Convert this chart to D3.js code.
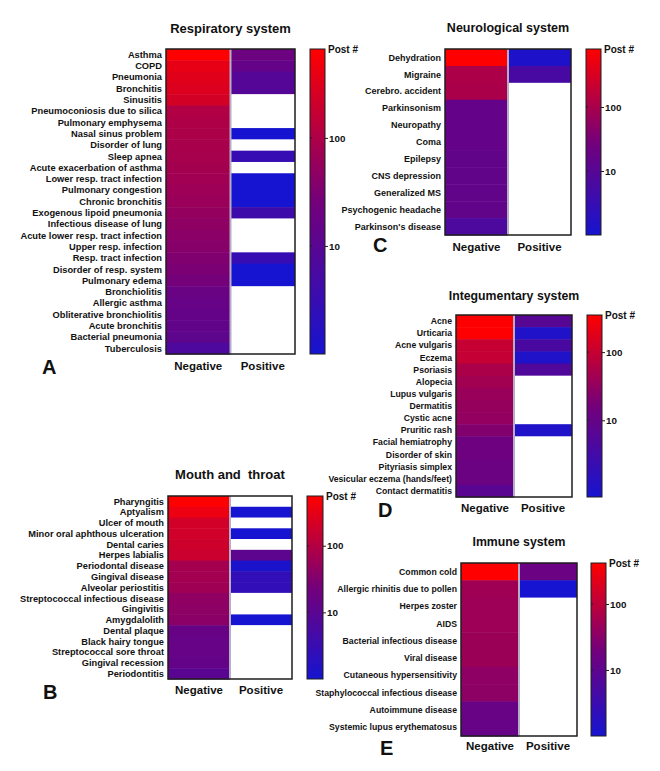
<!DOCTYPE html>
<html><head><meta charset="utf-8">
<script src="https://cdn.jsdelivr.net/npm/d3@7"></script>
<style>
body{margin:0;background:#fff}
text{font-family:"Liberation Sans",Arial,sans-serif;font-weight:bold;fill:#111}
</style>
</head><body>
<svg id="chart" width="660" height="771"></svg>
<script>
// ---------- DATA ----------
const columns = ["Negative", "Positive"];
const colorTicks = [10, 100];
const colorStops = ["#1614d0", "#74007a", "#ff0000"];

const respRows = ["Asthma","COPD","Pneumonia","Bronchitis","Sinusitis","Pneumoconiosis due to silica","Pulmonary emphysema","Nasal sinus problem","Disorder of lung","Sleep apnea","Acute exacerbation of asthma","Lower resp. tract infection","Pulmonary congestion","Chronic bronchitis","Exogenous lipoid pneumonia","Infectious disease of lung","Acute lower resp. tract infection","Upper resp. infection","Resp. tract infection","Disorder of resp. system","Pulmonary edema","Bronchiolitis","Allergic asthma","Obliterative bronchiolitis","Acute bronchitis","Bacterial pneumonia","Tuberculosis"];
const respNeg = [665,380,330,300,240,110,100,95,90,85,80,75,68,62,55,48,44,40,35,30,26,18,16,15,14,12,7];
const respPos = [20,15,9,9,null,null,null,1,null,3,null,1,1,1,4,null,null,null,3,1,1,null,null,null,null,null,null];
const respRange = [1, 665];

const mouthRows = ["Pharyngitis","Aptyalism","Ulcer of mouth","Minor oral aphthous ulceration","Dental caries","Herpes labialis","Periodontal disease","Gingival disease","Alveolar periostitis","Streptococcal infectious disease","Gingivitis","Amygdalolith","Dental plaque","Black hairy tongue","Streptococcal sore throat","Gingival recession","Periodontitis"];
const mouthNeg = [557,360,200,190,180,170,72,68,64,44,42,40,16,15,15,14,10];
const mouthPos = [null,1,null,1,null,11,1.2,2.5,2.5,null,null,1,null,null,null,null,null];
const mouthRange = [1, 557];

const neuroRows = ["Dehydration","Migraine","Cerebro. accident","Parkinsonism","Neuropathy","Coma","Epilepsy","CNS depression","Generalized MS","Psychogenic headache","Parkinson's disease"];
const neuroNeg = [805,110,105,16,16,16,15,15,15,15,7];
const neuroPos = [1.3,6,null,null,null,null,null,null,null,null,null];
const neuroRange = [1, 805];

const integRows = ["Acne","Urticaria","Acne vulgaris","Eczema","Psoriasis","Alopecia","Lupus vulgaris","Dermatitis","Cystic acne","Pruritic rash","Facial hemiatrophy","Disorder of skin","Pityriasis simplex","Vesicular eczema (hands/feet)","Contact dermatitis"];
const integNeg = [350,340,100,95,55,45,36,34,32,22,13,13,12,12,7];
const integPos = [6.5,1,4,1,5,null,null,null,null,1,null,null,null,null,null];
const integRange = [0.75, 350];

const immuneRows = ["Common cold","Allergic rhinitis due to pollen","Herpes zoster","AIDS","Bacterial infectious disease","Viral disease","Cutaneous hypersensitivity","Staphylococcal infectious disease","Autoimmune disease","Systemic lupus erythematosus"];
const immuneNeg = [418,52,50,50,48,48,36,35,14,13];
const immunePos = [15,1,null,null,null,null,null,null,null,null];
const immuneRange = [1, 418];

// ---------- LAYOUT ----------
const panels = [
  {letter:"A", title:"Respiratory system", rows:respRows, neg:respNeg, pos:respPos, range:respRange,
   hx:[166,295], hy:[49,354], cb:[310,325], titleY:33, colY:370, let:[42,374], fs:9.3, tfs:13},
  {letter:"B", title:"Mouth and  throat", rows:mouthRows, neg:mouthNeg, pos:mouthPos, range:mouthRange,
   hx:[168,292], hy:[496,679], cb:[307,323], titleY:479, colY:694, let:[43,699], fs:9.25, tfs:13},
  {letter:"C", title:"Neurological system", rows:neuroRows, neg:neuroNeg, pos:neuroPos, range:neuroRange,
   hx:[445,571], hy:[49,235], cb:[586,601], titleY:32, colY:251, let:[373,252], fs:9, tfs:12.5},
  {letter:"D", title:"Integumentary system", rows:integRows, neg:integNeg, pos:integPos, range:integRange,
   hx:[456,572], hy:[315,497], cb:[587,602], titleY:300, colY:512, let:[378,517], fs:8.7, tfs:12.3},
  {letter:"E", title:"Immune system", rows:immuneRows, neg:immuneNeg, pos:immunePos, range:immuneRange,
   hx:[461,577], hy:[563,736], cb:[591,606], titleY:546, colY:750, let:[380,755], fs:8.7, tfs:12.3}
];

const interp = d3.piecewise(d3.interpolateRgb, colorStops);

const svg = d3.select("#chart");
const defs = svg.append("defs");
const grad = defs.append("linearGradient").attr("id","cbgrad")
  .attr("x1",0).attr("y1",1).attr("x2",0).attr("y2",0);
d3.range(0,1.0001,0.05).forEach(t => grad.append("stop").attr("offset",t)
  .attr("stop-color", interp(t)));

panels.forEach(p => {
  const g = svg.append("g");
  const color = d3.scaleSequentialLog(interp).domain(p.range);
  const y = d3.scaleBand().domain(p.rows).range(p.hy);
  const x = d3.scaleBand().domain(columns).range(p.hx);

  const cells = [];
  p.rows.forEach((r,i) => {
    cells.push({row:r, col:"Negative", v:p.neg[i]});
    cells.push({row:r, col:"Positive", v:p.pos[i]});
  });
  g.selectAll("rect.cell").data(cells).join("rect").attr("class","cell")
    .attr("x", d => x(d.col)).attr("y", d => y(d.row))
    .attr("width", x.bandwidth()).attr("height", y.bandwidth() + 0.5)
    .attr("fill", d => d.v == null ? "#ffffff" : color(d.v));

  // divider
  g.append("line").attr("x1", x("Positive")).attr("x2", x("Positive"))
    .attr("y1", p.hy[0]).attr("y2", p.hy[1])
    .attr("stroke", "#b6aec6").attr("stroke-width", 2);
  // frame
  g.append("rect").attr("x", p.hx[0]).attr("y", p.hy[0])
    .attr("width", p.hx[1]-p.hx[0]).attr("height", p.hy[1]-p.hy[0])
    .attr("fill","none").attr("stroke","#1e1e1e").attr("stroke-width",1.5);

  // row labels
  g.selectAll("text.row").data(p.rows).join("text").attr("class","row")
    .attr("x", p.hx[0]-4).attr("y", d => y(d) + y.bandwidth()/2)
    .attr("dy","0.35em").attr("text-anchor","end")
    .style("font-size", p.fs + "px").text(d => d);

  // column labels
  g.selectAll("text.col").data(columns).join("text").attr("class","col")
    .attr("x", d => x(d) + x.bandwidth()/2).attr("y", p.colY)
    .attr("text-anchor","middle").style("font-size","11.5px").text(d => d);

  // title
  g.append("text").attr("x", (p.hx[0]+p.hx[1])/2).attr("y", p.titleY)
    .attr("text-anchor","middle").style("font-size", p.tfs+"px")
    .style("white-space","pre").attr("xml:space","preserve").text(p.title);

  // panel letter
  g.append("text").attr("x", p.let[0]).attr("y", p.let[1])
    .style("font-size","20px").text(p.letter);

  // colorbar
  g.append("rect").attr("x", p.cb[0]).attr("y", p.hy[0])
    .attr("width", p.cb[1]-p.cb[0]).attr("height", p.hy[1]-p.hy[0])
    .attr("fill","url(#cbgrad)").attr("stroke","#1e1e1e").attr("stroke-width",1);
  const cbScale = d3.scaleLog().domain(p.range).range([p.hy[1], p.hy[0]]);
  const ax = g.append("g").attr("transform", `translate(${p.cb[1]},0)`)
    .call(d3.axisRight(cbScale).tickValues(colorTicks).tickSize(3).tickPadding(1)
      .tickFormat(d3.format("d")));
  ax.select(".domain").remove();
  ax.selectAll("line").attr("stroke","#1e1e1e");
  ax.selectAll("text").style("font-size","9.8px").attr("fill","#111");
  // small inner ticks on the left edge
  g.selectAll("line.inner").data(colorTicks).join("line").attr("class","inner")
    .attr("x1", p.cb[0]).attr("x2", p.cb[0]+2)
    .attr("y1", d => cbScale(d)).attr("y2", d => cbScale(d))
    .attr("stroke","#1e1e1e").attr("stroke-width",1);

  g.append("text").attr("x", p.cb[1]+3).attr("y", p.hy[0]+4)
    .style("font-size","10px").text("Post #");
});
</script>
</body></html>
